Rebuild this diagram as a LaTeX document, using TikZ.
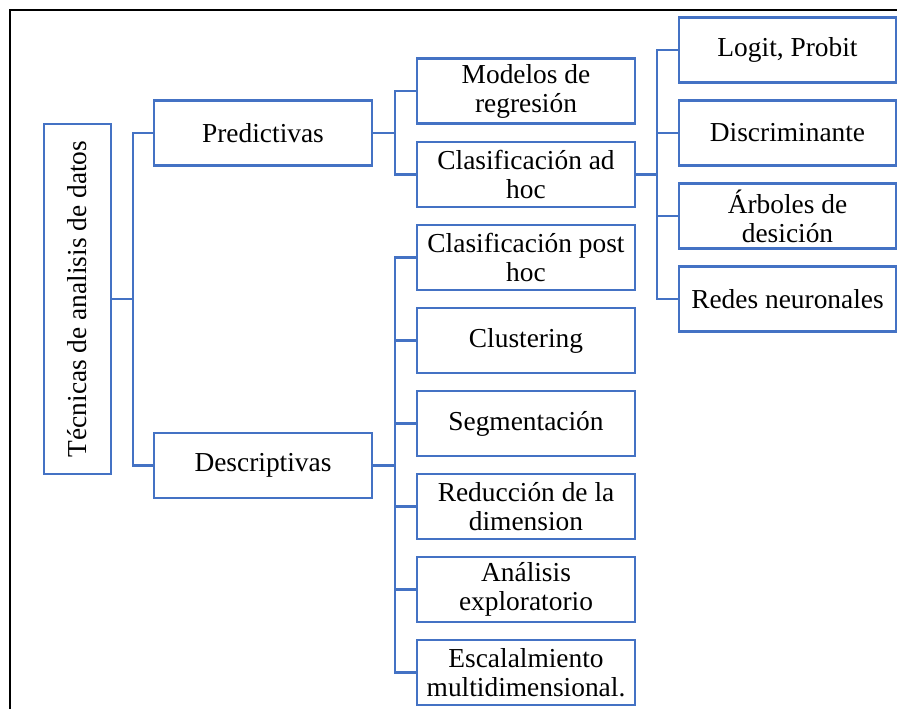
\documentclass[tikz,border=0pt]{standalone}
\usepackage{fontspec}
\setmainfont{Liberation Serif}
\definecolor{boxblue}{HTML}{4472C4}
\begin{document}
\begin{tikzpicture}[x=0.5pt,y=-0.5pt,
  box/.style={draw=boxblue, line width=1.25pt, minimum width=109pt, minimum height=32.5pt,
    inner sep=0pt, align=center, text=black, font=\fontsize{13.7}{14.5}\selectfont},
  link/.style={draw=boxblue, line width=1.25pt}]
\useasboundingbox (0,0) rectangle (897,709);
\draw[line width=1.3pt, black] (10,709) -- (10,10) -- (897,10);
% nodes
\node[box, minimum width=175pt, minimum height=33.5pt, rotate=90] (root) at (77.5,299) {Técnicas de analisis de datos};
\node[box] (pred) at (263,133) {Predictivas};
\node[box] (desc) at (263,465.5) {Descriptivas};
\node[box] (mod) at (526,91) {Modelos de\\regresión};
\node[box] (adhoc) at (526,174.5) {Clasificación ad\\hoc};
\node[box] (posthoc) at (526,257.5) {Clasificación post\\hoc};
\node[box] (clus) at (526,340.5) {Clustering};
\node[box] (seg) at (526,423.5) {Segmentación};
\node[box] (red) at (526,506.5) {Reducción de la\\dimension};
\node[box] (ana) at (526,589.5) {Análisis\\exploratorio};
\node[box] (esc) at (526,672.5) {Escalalmiento\\multidimensional.};
\node[box, minimum width=108.5pt] (logit) at (787.5,50) {Logit, Probit};
\node[box, minimum width=108.5pt] (disc) at (787.5,133) {Discriminante};
\node[box, minimum width=108.5pt] (arb) at (787.5,216) {Árboles de\\desición};
\node[box, minimum width=108.5pt] (redes) at (787.5,299) {Redes neuronales};
% junctions
\coordinate (j0) at (133,299);
\coordinate (j1) at (395,133);
\coordinate (j2) at (395,465.5);
\coordinate (j3) at (657,174.5);
% connectors
\draw[link] (root.south) -- (j0);
\draw[link] (pred.west) -| (j0) |- (desc.west);
\draw[link] (pred.east) -- (j1);
\draw[link] (mod.west) -| (j1) |- (adhoc.west);
\draw[link] (desc.east) -- (j2);
\draw[link] (posthoc.west) -| (j2) |- (esc.west);
\draw[link] (clus.west) -- (clus.west -| j2);
\draw[link] (seg.west) -- (seg.west -| j2);
\draw[link] (red.west) -- (red.west -| j2);
\draw[link] (ana.west) -- (ana.west -| j2);
\draw[link] (adhoc.east) -- (j3);
\draw[link] (logit.west) -| (j3) |- (redes.west);
\draw[link] (disc.west) -- (disc.west -| j3);
\draw[link] (arb.west) -- (arb.west -| j3);
\end{tikzpicture}
\end{document}
